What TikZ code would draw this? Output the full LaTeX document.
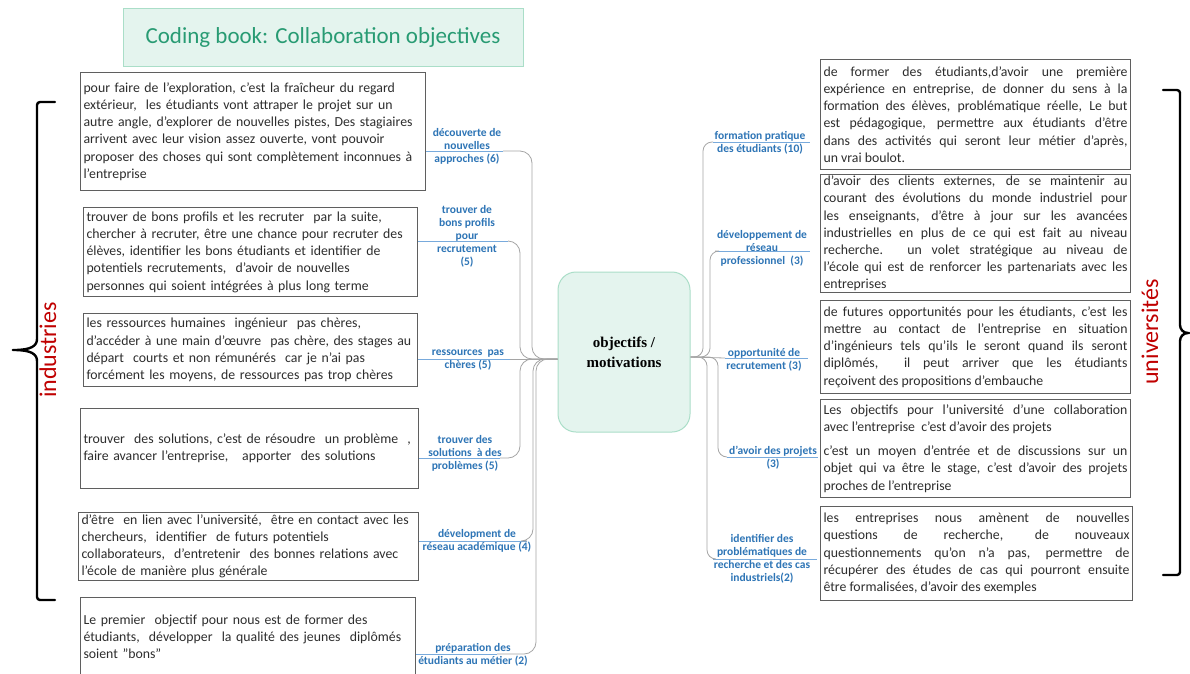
\documentclass[tikz,border=0pt]{standalone}
\usepackage{fontspec}
\setmainfont{Carlito}
\newfontfamily\motsfont{Liberation Serif}
\definecolor{txtgray}{RGB}{45,45,45}
\definecolor{boxgray}{RGB}{95,95,95}
\definecolor{lblue}{RGB}{46,117,182}
\definecolor{ublue}{RGB}{120,170,220}
\definecolor{brgray}{RGB}{165,165,165}
\definecolor{mint}{RGB}{228,244,238}
\definecolor{mintline}{RGB}{170,222,200}
\definecolor{titlegreen}{RGB}{40,155,115}
\definecolor{darkred}{RGB}{192,0,0}
\newcommand{\parasettings}{\hyphenpenalty=10000\tolerance=10000\emergencystretch=20pt}

\begin{document}
\begin{tikzpicture}[x=1pt,y=-1pt,
  quote/.style={draw=boxgray,line width=1pt,fill=white,anchor=north west,
    inner xsep=3pt,inner ysep=0pt,text=txtgray,
    font=\fontsize{13.8}{17.2}\selectfont\parasettings},
  lquote/.style={quote,align=left},
  rquote/.style={quote,align=justify},
  code/.style={text=lblue,font=\fontsize{11.5}{13}\selectfont\bfseries,
    align=center,inner sep=0pt},
  uline/.style={ublue,line width=0.8pt},
  branch/.style={brgray,line width=0.8pt,rounded corners=12pt},
  bracket/.style={line width=2.4pt,line cap=round,line join=round},
  side/.style={text=darkred,font=\fontsize{24}{24}\selectfont,rotate=90}]
\useasboundingbox (0,0) rectangle (1190,673);
\fill[white] (0,0) rectangle (1190,673);
\clip (0,0) rectangle (1190,673);
% title
\node[draw=mintline,fill=mint,line width=1pt,minimum width=400,minimum height=58,
  text=titlegreen,font=\fontsize{23}{23}\selectfont] (title) at (323,37)
  {Coding book: Collaboration objectives};
% centre
\node[draw=mintline,fill=mint,line width=1pt,rounded corners=18pt,
  minimum width=132,minimum height=160,align=center,
  font=\fontsize{15}{20}\selectfont\motsfont\bfseries] (obj) at (624,352)
  {objectifs /\\motivations};
% industries
\draw[bracket,rounded corners=3pt] (55,102) -- (37,102) -- (37,336)
  .. controls (37,346) and (31,350) .. (11,350)
  .. controls (31,350) and (37,354) .. (37,364) -- (37,600) -- (55,600);
\node[side] (ind) at (48,350) {industries};
% universites
\draw[bracket,rounded corners=3pt] (1163,90) -- (1180,90) -- (1180,322)
  .. controls (1180,329) and (1183,333) .. (1191,333)
  .. controls (1183,333) and (1180,337) .. (1180,344) -- (1180,575) -- (1163,575);
\node[side] (univ) at (1150,332) {universités};
% left quotes
\node[lquote,text width=339,minimum height=118] (q1) at (80,72)
  {pour faire de l'exploration, c'est la fraîcheur du regard\\
   extérieur,\ \ les étudiants vont attraper le projet sur un\\
   autre angle, d'explorer de nouvelles pistes, Des stagiaires\\
   arrivent avec leur vision assez ouverte, vont pouvoir\\
   proposer des choses qui sont complètement inconnues à\\
   l'entreprise};
\node[lquote,text width=328,minimum height=89] (q2) at (83,207)
  {trouver de bons profils et les recruter\ \ par la suite,\\
   chercher à recruter, être une chance pour recruter des\\
   élèves, identifier les bons étudiants et identifier de\\
   potentiels recrutements,\ \ d'avoir de nouvelles\\
   personnes qui soient intégrées à plus long terme};
\node[lquote,text width=328,minimum height=73] (q3) at (83,313)
  {les ressources humaines\ \ ingénieur\ \ pas chères,\\
   d'accéder à une main d'œuvre\ \ pas chère, des stages au\\
   départ\ \ courts et non rémunérés\ \ car je n'ai pas\\
   forcément les moyens, de ressources pas trop chères};
\node[lquote,text width=332,minimum height=80] (q4) at (80,408)
  {trouver\ \ des solutions, c'est de résoudre\ \ un problème\ \ ,\\
   faire avancer l'entreprise,\ \ \ apporter\ \ des solutions};
\node[lquote,text width=334,minimum height=68] (q5) at (78,512)
  {d'être\ \ en lien avec l'université,\ \ être en contact avec les\\
   chercheurs,\ \ identifier\ \ de futurs potentiels\\
   collaborateurs,\ \ d'entretenir\ \ des bonnes relations avec\\
   l'école de manière plus générale};
\node[lquote,text width=329,minimum height=78] (q6) at (80,597)
  {Le premier\ \ objectif pour nous est de former des\\
   étudiants,\ \ développer\ \ la qualité des jeunes\ \ diplômés\\
   soient "bons"};
% right quotes
\node[rquote,text width=304,minimum height=110] (r1) at (820,59)
  {de former des étudiants,d'avoir une première\linebreak
   expérience en entreprise, de donner du sens à la\linebreak
   formation des élèves, problématique réelle, Le but\linebreak
   est pédagogique, permettre aux étudiants d'être\linebreak
   dans des activités qui seront leur métier d'après,\linebreak
   un vrai boulot.};
\node[rquote,text width=304,minimum height=118] (r2) at (820,174)
  {d'avoir des clients externes, de se maintenir au\linebreak
   courant des évolutions du monde industriel pour\linebreak
   les enseignants, d'être à jour sur les avancées\linebreak
   industrielles en plus de ce qui est fait au niveau\linebreak
   recherche. un volet stratégique au niveau de\linebreak
   l'école qui est de renforcer les partenariats avec les\linebreak
   entreprises};
\node[rquote,text width=304,minimum height=93] (r3) at (820,300)
  {de futures opportunités pour les étudiants, c'est les\linebreak
   mettre au contact de l'entreprise en situation\linebreak
   d'ingénieurs tels qu'ils le seront quand ils seront\linebreak
   diplômés,\ \ il peut arriver que les étudiants\linebreak
   reçoivent des propositions d'embauche};
\node[rquote,text width=304,minimum height=98] (r4) at (820,399)
  {Les objectifs pour l'université d'une collaboration\linebreak
   avec l'entreprise\ \ c'est d'avoir des projets\par\vspace{7pt}
   c'est un moyen d'entrée et de discussions sur un\linebreak
   objet qui va être le stage, c'est d'avoir des projets\linebreak
   proches de l'entreprise};
\node[rquote,text width=306,minimum height=94] (r5) at (820,506)
  {les entreprises nous amènent de nouvelles\linebreak
   questions de recherche, de nouveaux\linebreak
   questionnements qu'on n'a pas, permettre de\linebreak
   récupérer des études de cas qui pourront ensuite\linebreak
   être formalisées, d'avoir des exemples};
% left codes
\node[code] (c1) at (467,146) {découverte de\\nouvelles\\approches (6)};
\node[code] (c2) at (467,236) {trouver de\\bons profils\\pour\\recrutement\\(5)};
\node[code] (c3) at (468,360) {ressources\ \ pas\\chères (5)};
\node[code] (c4) at (465,453) {trouver des\\solutions\ \ à des\\problèmes (5)};
\node[code] (c5) at (477,541) {dévelopment de\\réseau académique (4)};
\node[code] (c6) at (473,655) {préparation des\\étudiants au métier (2)};
% right codes
\node[code] (d1) at (760,143) {formation pratique\\des étudiants (10)};
\node[code] (d2) at (762,248) {développement de\\réseau\\professionnel\ \ (3)};
\node[code] (d3) at (764,360) {opportunité de\\recrutement (3)};
\node[code] (d4) at (773,458) {d'avoir des projets\\(3)};
\node[code] (d5) at (762,559) {identifier des\\problématiques de\\recherche et des cas\\industriels(2)};
% left branches
\coordinate (hubL) at (obj.west |- 0,359);
\coordinate (u1) at (503,151);
\coordinate (u2) at (508,241);
\coordinate (u3) at (510,359);
\coordinate (u4) at (500,458);
\coordinate (u5) at (527,541);
\coordinate (u6) at (497,654);
\foreach \u/\q in {u1/q1, u2/q2, u3/q3, u4/q4, u5/q5, u6/q6}{
  \draw[uline] (\q.east |- \u) -- (\u);}
\draw[branch] (u1) -- (532,151) -- (532,359) -- (hubL);
\draw[branch] (u2) -- (520,241) -- (520,359) -- (hubL);
\draw[branch] (u3) -- (hubL);
\draw[branch] (u4) -- (520,458) -- (520,359) -- (hubL);
\draw[branch] (u5) -- (533,541) -- (533,359) -- (hubL);
\draw[branch] (u6) -- (536,654) -- (536,359) -- (hubL);
% right branches
\coordinate (hubR) at (obj.east |- 0,357);
\coordinate (v1) at (713,142);
\coordinate (v2) at (715,251);
\coordinate (v3) at (725,358);
\coordinate (v4) at (727,457);
\coordinate (v5) at (713,559);
\draw[uline] (v1) -- ++(97,0);
\draw[uline] (v2) -- ++(95,0);
\draw[uline] (v3) -- ++(83,0);
\draw[uline] (v4) -- ++(91,0);
\draw[uline] (v5) -- ++(104,0);
\draw[branch,rounded corners=9pt] (hubR) -- (703,357) -- (703,142) -- (v1);
\draw[branch,rounded corners=9pt] (hubR) -- (710,357) -- (710,251) -- (v2);
\draw[branch] (hubR) -- (v3);
\draw[branch,rounded corners=9pt] (hubR) -- (718,357) -- (718,457) -- (v4);
\draw[branch,rounded corners=9pt] (hubR) -- (707,357) -- (707,559) -- (v5);
\end{tikzpicture}
\end{document}
